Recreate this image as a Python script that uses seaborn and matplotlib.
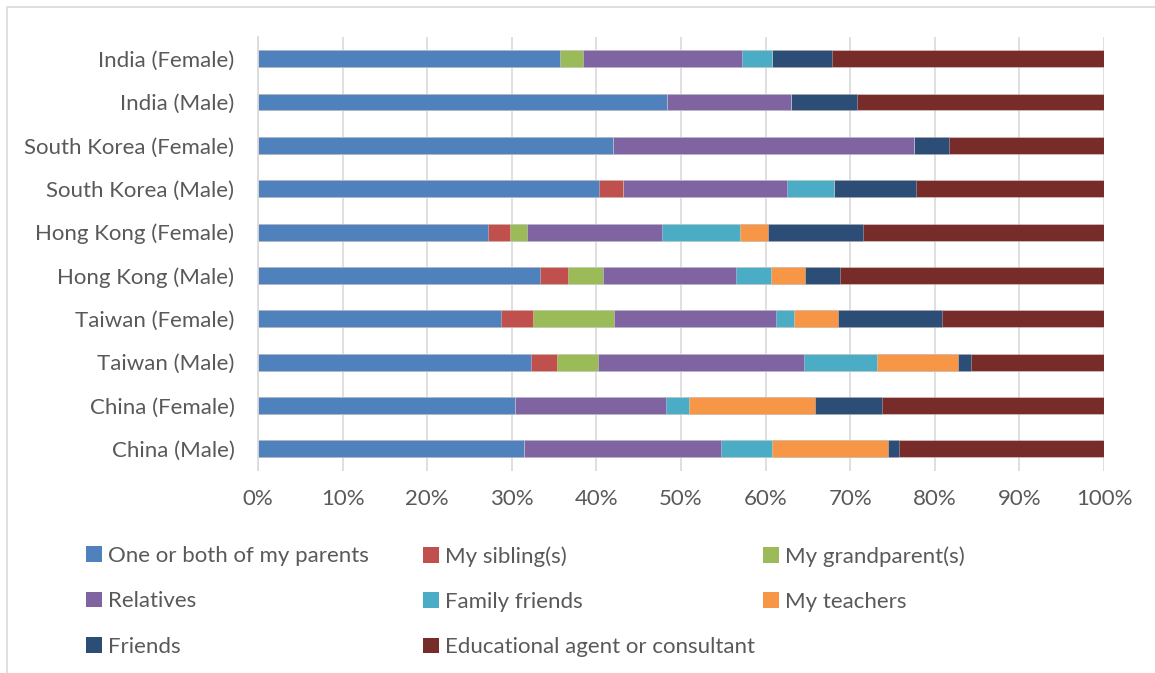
import matplotlib
matplotlib.use("Agg")
import matplotlib.pyplot as plt
from matplotlib.patches import Rectangle, Patch
import numpy as np
import pandas as pd
import seaborn as sns

groups = ["India (Female)", "India (Male)", "South Korea (Female)", "South Korea (Male)",
          "Hong Kong (Female)", "Hong Kong (Male)", "Taiwan (Female)", "Taiwan (Male)",
          "China (Female)", "China (Male)"]

parents = [35.7, 48.3, 42.0, 40.3, 27.2, 33.3, 28.7, 32.3, 30.4, 31.4]
siblings = [0.0, 0.0, 0.0, 2.8, 2.6, 3.4, 3.8, 3.1, 0.0, 0.0]
grandparents = [2.7, 0.0, 0.0, 0.0, 2.0, 4.1, 9.6, 4.8, 0.0, 0.0]
relatives = [18.8, 14.7, 35.5, 19.4, 15.9, 15.7, 19.1, 24.3, 17.8, 23.3]
family_friends = [3.5, 0.0, 0.0, 5.6, 9.3, 4.1, 2.1, 8.7, 2.7, 6.0]
teachers = [0.0, 0.0, 0.0, 0.0, 3.3, 4.1, 5.3, 9.5, 14.9, 13.8]
friends = [7.1, 7.8, 4.2, 9.7, 11.2, 4.1, 12.2, 1.6, 8.0, 1.3]
agent = [32.2, 29.2, 18.3, 22.2, 28.5, 31.2, 19.2, 15.7, 26.2, 24.2]

series_names = ["One or both of my parents", "My sibling(s)", "My grandparent(s)",
                "Relatives", "Family friends", "My teachers", "Friends",
                "Educational agent or consultant"]
series_values = [parents, siblings, grandparents, relatives, family_friends,
                 teachers, friends, agent]
series_colors = ["#4F81BD", "#C0504D", "#9BBB59", "#8064A2", "#4BACC6",
                 "#F79646", "#2C4D75", "#772C2A"]

tick_labels = ["0%", "10%", "20%", "30%", "40%", "50%", "60%", "70%", "80%", "90%", "100%"]

sns.set_theme(style="white")
plt.rcParams["font.family"] = ["Lato", "DejaVu Sans"]
text_color = "#595959"
font_size = 16

fig = plt.figure(figsize=(11.55, 6.73), dpi=100)
ax = fig.add_axes([258 / 1155, 1 - 470.5 / 673, (1104 - 258) / 1155, (470.5 - 37) / 673])

# stacked percentages: draw cumulative totals from the outermost segment inward
values = np.array(series_values, dtype=float)
shares = values / values.sum(axis=0) * 100
cumulative = np.cumsum(shares, axis=0)
for i in range(len(series_names) - 1, -1, -1):
    df = pd.DataFrame({"group": groups, "value": cumulative[i]})
    sns.barplot(data=df, x="value", y="group", orient="h", color=series_colors[i],
                saturation=1, width=0.39, ax=ax, linewidth=0.6,
                edgecolor=(1, 1, 1, 0.35))

ax.set_xlim(0, 100)
ax.set_ylim(len(groups) - 0.5, -0.5)
ax.set_xticks(np.arange(0, 101, 10))
ax.set_xticklabels(tick_labels)
ax.set_xlabel("")
ax.set_ylabel("")
ax.set_axisbelow(True)
ax.xaxis.grid(True, color="#D9D9D9", linewidth=1.2)
ax.yaxis.grid(False)
for side in ["top", "right", "bottom"]:
    ax.spines[side].set_visible(False)
ax.spines["left"].set_color("#D9D9D9")
ax.spines["left"].set_linewidth(1.2)
ax.tick_params(axis="both", length=0, labelsize=font_size, labelcolor=text_color)
ax.tick_params(axis="x", pad=13.5)
ax.tick_params(axis="y", pad=17)

# legend laid out in three columns, filled row by row
columns = [[0, 3, 6], [1, 4, 7], [2, 5]]
col_x = [86 / 1155, 423 / 1155, 763 / 1155]
for cx, idxs in zip(col_x, columns):
    handles = [Patch(facecolor=series_colors[k], edgecolor="none") for k in idxs]
    labels = [series_names[k] for k in idxs]
    fig.legend(handles, labels, loc="upper left", bbox_to_anchor=(cx, 1 - 546 / 673),
               frameon=False, fontsize=font_size, labelcolor=text_color,
               handlelength=0.7, handleheight=0.7, handletextpad=0.3,
               labelspacing=1.14, borderaxespad=0, borderpad=0)

# outer chart border
fig.add_artist(Rectangle((7 / 1155, -0.05), 1.1, 1 - 7 / 673 + 0.05,
                         transform=fig.transFigure, fill=False,
                         edgecolor="#D9D9D9", linewidth=1.2))

fig.savefig("out.png", dpi=100, facecolor="white")
